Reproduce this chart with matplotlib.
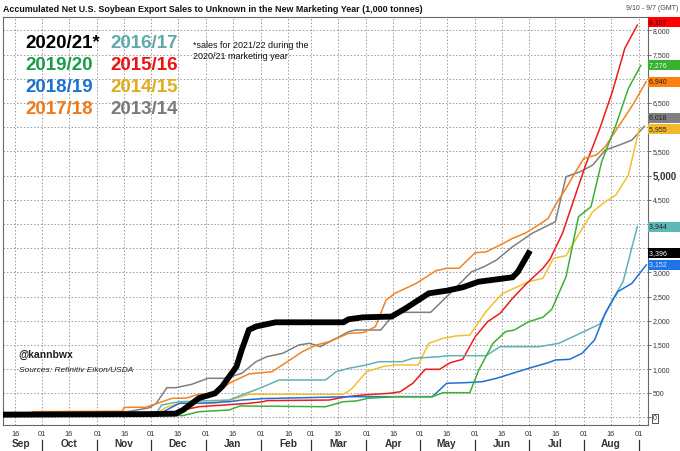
"""
Accumulated net U.S. soybean export sales to unknown, new marketing year
"""
import pandas as pd
import matplotlib.pyplot as plt
import matplotlib.dates as mdates
import matplotlib.transforms as mtransforms
from matplotlib.ticker import FuncFormatter, MultipleLocator

plt.rcParams['font.family'] = ['Liberation Sans', 'DejaVu Sans']

# ---- data (1,000 tonnes), plotted on the 2020/21 calendar ----
dates_2021 = ['2020-09-10', '2020-11-30', '2020-12-15', '2020-12-19', '2020-12-28', '2021-01-06',
              '2021-01-10', '2021-01-18', '2021-01-21', '2021-01-25', '2021-01-29', '2021-02-09',
              '2021-03-19', '2021-03-22', '2021-03-30', '2021-04-15', '2021-04-23', '2021-05-06',
              '2021-05-16', '2021-05-25', '2021-06-03', '2021-06-22', '2021-06-25', '2021-07-01']
vals_2021 = [60, 70, 80, 155, 400, 500, 640, 1050, 1400, 1810, 1880, 1967,
             1967, 2030, 2070, 2085, 2256, 2566, 2620, 2690, 2806, 2897, 3012, 3396]

dates_2017 = ['2020-09-10', '2020-09-22', '2020-09-26', '2020-11-15', '2020-11-16', '2020-11-28',
              '2020-12-13', '2020-12-21', '2020-12-28', '2021-01-06', '2021-01-14', '2021-01-25',
              '2021-02-07', '2021-02-17', '2021-02-24', '2021-03-04', '2021-03-11', '2021-03-22',
              '2021-03-30', '2021-04-06', '2021-04-12', '2021-04-17', '2021-04-29', '2021-05-10',
              '2021-05-16', '2021-05-23', '2021-06-01', '2021-06-07', '2021-06-15', '2021-06-22',
              '2021-06-29', '2021-07-08', '2021-07-12', '2021-07-16', '2021-07-22', '2021-07-28',
              '2021-08-01', '2021-08-08', '2021-08-13', '2021-08-21', '2021-08-29', '2021-09-05']
vals_2017 = [30, 60, 120, 130, 210, 210, 397, 400, 485, 485, 707, 900,
             946, 1188, 1360, 1500, 1566, 1740, 1752, 1876, 2428, 2566, 2773, 3033,
             3083, 3083, 3405, 3420, 3564, 3702, 3806, 4012, 4116, 4390, 4735, 5114,
             5355, 5424, 5595, 6043, 6492, 6940]

dates_2013 = ['2020-09-10', '2020-11-15', '2020-11-30', '2020-12-04', '2020-12-10', '2020-12-15',
              '2020-12-24', '2021-01-02', '2021-01-12', '2021-01-21', '2021-01-29', '2021-02-04',
              '2021-02-13', '2021-02-22', '2021-02-28', '2021-03-06', '2021-03-15', '2021-03-22',
              '2021-03-26', '2021-04-09', '2021-04-16', '2021-04-21', '2021-05-07', '2021-05-17',
              '2021-05-30', '2021-06-06', '2021-06-13', '2021-06-22', '2021-07-03', '2021-07-16',
              '2021-07-22', '2021-07-30', '2021-08-06', '2021-08-13', '2021-08-21', '2021-08-28',
              '2021-09-04']
vals_2013 = [50, 100, 200, 293, 616, 616, 686, 810, 810, 913, 1153, 1256,
             1326, 1498, 1533, 1463, 1636, 1773, 1808, 1808, 2118, 2173, 2173, 2531,
             3012, 3116, 3254, 3529, 3806, 4045, 4975, 5079, 5217, 5527, 5630, 5733,
             6018]

dates_2014 = ['2020-09-10', '2020-12-04', '2020-12-09', '2020-12-17', '2021-01-06', '2021-01-18',
              '2021-01-25', '2021-03-19', '2021-03-22', '2021-03-24', '2021-04-01', '2021-04-10',
              '2021-04-17', '2021-04-30', '2021-05-06', '2021-05-14', '2021-05-21', '2021-05-29',
              '2021-06-07', '2021-06-16', '2021-06-24', '2021-07-01', '2021-07-09', '2021-07-15',
              '2021-07-22', '2021-07-30', '2021-08-06', '2021-08-13', '2021-08-19', '2021-08-26',
              '2021-09-01']
vals_2014 = [30, 60, 200, 293, 293, 397, 480, 480, 548, 603, 946, 1050,
             1085, 1085, 1533, 1636, 1684, 1705, 2186, 2552, 2690, 2806, 2876, 3289,
             3343, 3839, 4252, 4458, 4597, 5010, 5955]

dates_2015 = ['2020-09-10', '2020-12-15', '2020-12-19', '2020-12-28', '2021-01-25', '2021-02-02',
              '2021-02-04', '2021-03-11', '2021-03-21', '2021-03-30', '2021-04-14', '2021-04-20',
              '2021-04-27', '2021-05-04', '2021-05-12', '2021-05-18', '2021-05-25', '2021-06-01',
              '2021-06-08', '2021-06-15', '2021-06-22', '2021-06-30', '2021-07-09', '2021-07-13',
              '2021-07-20', '2021-07-26', '2021-08-02', '2021-08-10', '2021-08-17', '2021-08-24',
              '2021-08-31']
vals_2015 = [40, 60, 155, 223, 293, 326, 348, 361, 430, 465, 500, 533,
             707, 996, 996, 1132, 1202, 1669, 1980, 2153, 2463, 2773, 3083, 3269,
             3806, 4458, 5217, 5975, 6731, 7628, 8107]

dates_2019 = ['2020-09-10', '2020-12-19', '2020-12-28', '2021-01-14', '2021-01-20', '2021-03-09',
              '2021-03-19', '2021-03-26', '2021-04-02', '2021-04-17', '2021-05-08', '2021-05-14',
              '2021-05-29', '2021-06-03', '2021-06-11', '2021-06-18', '2021-06-23', '2021-07-01',
              '2021-07-09', '2021-07-14', '2021-07-22', '2021-07-29', '2021-08-05', '2021-08-11',
              '2021-08-19', '2021-08-26', '2021-09-02']
vals_2019 = [20, 40, 120, 155, 238, 223, 326, 340, 397, 430, 430, 513,
             513, 981, 1533, 1773, 1808, 1980, 2070, 2235, 2909, 4149, 4355, 5285,
             6043, 6802, 7276]

dates_2016 = ['2020-09-10', '2020-12-04', '2020-12-07', '2020-12-17', '2021-01-14', '2021-01-21',
              '2021-01-31', '2021-02-11', '2021-03-09', '2021-03-15', '2021-03-22', '2021-04-01',
              '2021-04-08', '2021-04-21', '2021-04-27', '2021-05-12', '2021-05-17', '2021-06-07',
              '2021-06-15', '2021-07-07', '2021-07-18', '2021-07-30', '2021-08-10', '2021-08-17',
              '2021-08-23', '2021-08-31']
vals_2016 = [50, 80, 258, 326, 361, 465, 603, 775, 775, 946, 1016, 1085,
             1153, 1153, 1223, 1256, 1277, 1277, 1463, 1463, 1533, 1740, 1932, 2428,
             2806, 3944]

dates_2018 = ['2020-09-10', '2020-12-06', '2020-12-17', '2020-12-28', '2021-01-14', '2021-01-21',
              '2021-02-02', '2021-03-22', '2021-05-08', '2021-05-16', '2021-05-27', '2021-06-05',
              '2021-06-13', '2021-06-22', '2021-07-01', '2021-07-12', '2021-07-16', '2021-07-24',
              '2021-07-31', '2021-08-07', '2021-08-13', '2021-08-20', '2021-08-28', '2021-09-05']
vals_2018 = [40, 80, 293, 293, 326, 361, 390, 430, 430, 707, 720, 740,
             810, 913, 1016, 1132, 1188, 1202, 1326, 1601, 2153, 2599, 2773, 3152]

month_names = ['Sep', 'Oct', 'Nov', 'Dec', 'Jan', 'Feb', 'Mar', 'Apr', 'May', 'Jun', 'Jul', 'Aug']

# (label, dates, values, line colour, box colour, box text colour, line width)
series = [
    ('2013/14', dates_2013, vals_2013, '#7f7f7f', '#808080', '#222222', 1.1),
    ('2014/15', dates_2014, vals_2014, '#f2c12e', '#f2b92a', '#222222', 1.1),
    ('2015/16', dates_2015, vals_2015, '#f01a1a', '#ff0000', '#330000', 1.1),
    ('2016/17', dates_2016, vals_2016, '#5fb3b3', '#5fb8b8', '#222222', 1.1),
    ('2017/18', dates_2017, vals_2017, '#f58220', '#ff7f0e', '#222222', 1.1),
    ('2018/19', dates_2018, vals_2018, '#1f6fd6', '#1e73e8', '#dde8ff', 1.1),
    ('2019/20', dates_2019, vals_2019, '#3cb034', '#38b030', '#eeffee', 1.1),
    ('2020/21*', dates_2021, vals_2021, '#000000', '#000000', '#ffffff', 4.2),
]

legend_rows = [('2020/21*', '#000000', '2016/17', '#5fabab'),
               ('2019/20', '#1a9e48', '2015/16', '#ee1111'),
               ('2018/19', '#1c73cf', '2014/15', '#e0ac1c'),
               ('2017/18', '#f07a1a', '2013/14', '#7a7a7a')]

# ---- figure ----
fig = plt.figure(figsize=(6.8, 4.51), dpi=100)
ax = fig.add_axes([3 / 680, 26 / 451, 645 / 680, 408 / 451])

for name, d, v, col, bcol, tcol, lw in series:
    ax.plot(pd.to_datetime(d), v, color=col, linewidth=lw,
            solid_joinstyle='miter', zorder=5 if lw > 2 else 3)

ax.set_xlim(pd.Timestamp('2020-09-09'), pd.Timestamp('2021-09-06'))
ax.set_ylim(-155, 8275)

# grid
ax.grid(True, color='#9a9a9a', linestyle=(0, (1.5, 2)), linewidth=0.7)
for s in ax.spines.values():
    s.set_color('#6a6a6a')
    s.set_linewidth(0.8)

# x axis: 01 / 16 labels and month names
ax.xaxis.set_major_locator(mdates.DayLocator(bymonthday=[1, 16]))
ax.xaxis.set_major_formatter(mdates.DateFormatter('%d'))
ax.tick_params(axis='x', length=0, pad=4, labelsize=5.3, labelcolor='#333333')

trans_x = mtransforms.blended_transform_factory(ax.transData, ax.transAxes)
month_starts = pd.date_range('2020-10-01', '2021-09-01', freq='MS')
month_pos = [pd.Timestamp('2020-09-19')] + [m + pd.Timedelta(days=15) for m in month_starts[:-1]]
for nm, p in zip(month_names, month_pos):
    ax.text(p, -0.046, nm, transform=trans_x, ha='center', va='center',
            fontsize=7.3, fontweight='bold', color='#333333')
for p in month_starts:
    ax.plot([p, p], [-0.036, -0.062], transform=trans_x, color='#333333',
            linewidth=0.9, clip_on=False)

# y axis on the right; labels hidden behind the value boxes are left blank
hidden = {3500, 4000, 6000, 7000}
ax.yaxis.tick_right()
ax.yaxis.set_major_locator(MultipleLocator(500))
ax.yaxis.set_major_formatter(FuncFormatter(lambda v, p: '' if round(v) in hidden else f'{v:,.0f}'))
ax.tick_params(axis='y', length=2.5, width=0.6, pad=1, labelsize=5,
               labelcolor='#333333', color='#555555')
for lab in ax.get_yticklabels():
    if lab.get_text() == '5,000':
        lab.set_fontsize(7)
        lab.set_fontweight('bold')
    if lab.get_text() == '0':
        lab.set_bbox(dict(boxstyle='square,pad=0.15', facecolor='white',
                          edgecolor='#333333', linewidth=0.6))

# last value boxes
trans_y = mtransforms.blended_transform_factory(ax.transAxes, ax.transData)
nudge = {'2013/14': 170, '2015/16': 60}
for name, d, v, col, bcol, tcol, lw in series:
    y = v[-1] + nudge.get(name, 0)
    ax.text(1.002, y, f'{v[-1]:,}      ', transform=trans_y, ha='left', va='center',
            fontsize=5, color=tcol, zorder=10, clip_on=False,
            bbox=dict(boxstyle='square,pad=0.2', facecolor=bcol, edgecolor='none'))

# legend text
for i, (l1, c1, l2, c2) in enumerate(legend_rows):
    ytop = 44 + i * 21.8
    fig.text(25 / 680, 1 - ytop / 451, l1, color=c1, fontsize=13.5,
             fontweight='bold', va='center', ha='left')
    fig.text(110 / 680, 1 - ytop / 451, l2, color=c2, fontsize=13.5,
             fontweight='bold', va='center', ha='left')

fig.text(193 / 680, 1 - 51 / 451, '*sales for 2021/22 during the\n2020/21 marketing year',
         fontsize=6.5, va='center', ha='left', color='#111111', linespacing=1.25)
fig.text(18 / 680, 1 - 355 / 451, '@kannbwx', fontsize=7.5, fontweight='bold',
         va='center', ha='left', color='#222222')
fig.text(19 / 680, 1 - 371 / 451, 'Sources: Refinitiv Eikon/USDA', fontsize=6,
         style='italic', va='center', ha='left', color='#222222')

# title
fig.text(3 / 680, 1 - 9 / 451,
         'Accumulated Net U.S. Soybean Export Sales to Unknown in the New Marketing Year (1,000 tonnes)',
         fontsize=6.4, fontweight='bold', va='center', ha='left', color='#111111')
fig.text(678 / 680, 1 - 9 / 451, '9/10 - 9/7 (GMT)', fontsize=5, va='center',
         ha='right', color='#444444')

plt.savefig('out.png', dpi=100)
plt.close()
